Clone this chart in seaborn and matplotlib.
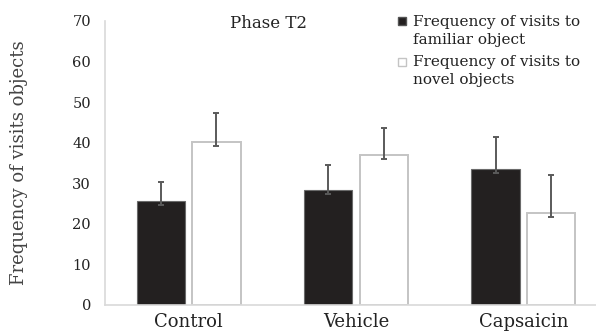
import matplotlib
matplotlib.use("Agg")
import matplotlib.pyplot as plt
import seaborn as sns
import pandas as pd

# data
groups = ["Control", "Vehicle", "Capsaicin"]
familiar = [25.7, 28.4, 33.6]
novel = [40.2, 37.0, 22.6]
familiar_err = [4.5, 6.1, 7.9]
novel_err = [7.1, 6.7, 9.5]
err_low = [1.0, 1.0, 1.0]
series = ["Frequency of visits to\nfamiliar object", "Frequency of visits to\nnovel objects"]
yticks = [0, 10, 20, 30, 40, 50, 60, 70]

df = pd.DataFrame({
    "group": groups * 2,
    "value": familiar + novel,
    "series": [series[0]] * 3 + [series[1]] * 3,
})

sns.set_theme(style="white")
plt.rcParams["font.family"] = ["DejaVu Serif"]

fig = plt.figure(figsize=(5.96, 3.34), dpi=100)
ax = fig.add_axes([105 / 596, 29 / 334, 502 / 596, 284 / 334])

dark = "#231f20"
light_edge = "#c4c4c4"
sns.barplot(data=df, x="group", y="value", hue="series", order=groups,
            hue_order=series, palette=[dark, "white"], width=0.665, gap=0.135,
            errorbar=None, legend=False, ax=ax, zorder=2)

for p, face in zip(ax.patches, [dark] * 3 + ["white"] * 3):
    if face == "white":
        p.set_edgecolor(light_edge)
        p.set_linewidth(1.4)
    else:
        p.set_edgecolor("#6a6a6a")
        p.set_linewidth(0.8)

# error bars on top of each bar
errs = familiar_err + novel_err
lows = err_low + err_low
for p, up, lo in zip(ax.patches[:6], errs, lows):
    xc = p.get_x() + p.get_width() / 2
    top = p.get_height()
    ax.errorbar(xc, top, yerr=[[lo], [up]], fmt="none", ecolor="#5a5a5a",
                elinewidth=1.4, capsize=2.5, capthick=1.4, zorder=3)

ax.set_ylim(0, 70)
ax.set_xlim(-0.5, 2.5)
ax.set_yticks(yticks)
ax.set_xticks(range(3))
ax.set_xticklabels(groups, fontsize=13, color="#222222")
ax.set_xticks([-0.5, 0.5, 1.5], minor=True)
ax.tick_params(axis="x", which="major", length=0, pad=6)
ax.tick_params(axis="x", which="minor", length=3, width=1, color="#d0d0d0")
ax.tick_params(axis="y", length=4, width=1, color="#d0d0d0", labelsize=10.5,
               labelcolor="#222222", pad=6)
ax.set_xlabel("")
ax.set_ylabel("Frequency of visits objects", fontsize=13, color="#444444", labelpad=32)

for side in ["top", "right"]:
    ax.spines[side].set_visible(False)
for side in ["left", "bottom"]:
    ax.spines[side].set_color("#d9d9d9")
    ax.spines[side].set_linewidth(1.2)

ax.text(0.325, 0.99, "Phase T2", transform=ax.transAxes, ha="center",
        va="center", fontsize=12, color="#222222")

# legend: square swatch next to first line of each two-line label
leg_faces = [dark, "white"]
leg_edges = ["#555555", light_edge]
leg_text_y = [0.965, 0.825]
leg_mark_y = [1.0, 0.857]
for label, fc, ec, ty, my in zip(series, leg_faces, leg_edges, leg_text_y, leg_mark_y):
    ax.plot([0.5916], [my], marker="s", markersize=6, markerfacecolor=fc,
            markeredgecolor=ec, linestyle="none", transform=ax.transAxes,
            clip_on=False, zorder=4)
    ax.text(0.6135, ty, label, transform=ax.transAxes, ha="left", va="center",
            fontsize=11, color="#222222", linespacing=1.35)

fig.savefig("out.png", dpi=100)
